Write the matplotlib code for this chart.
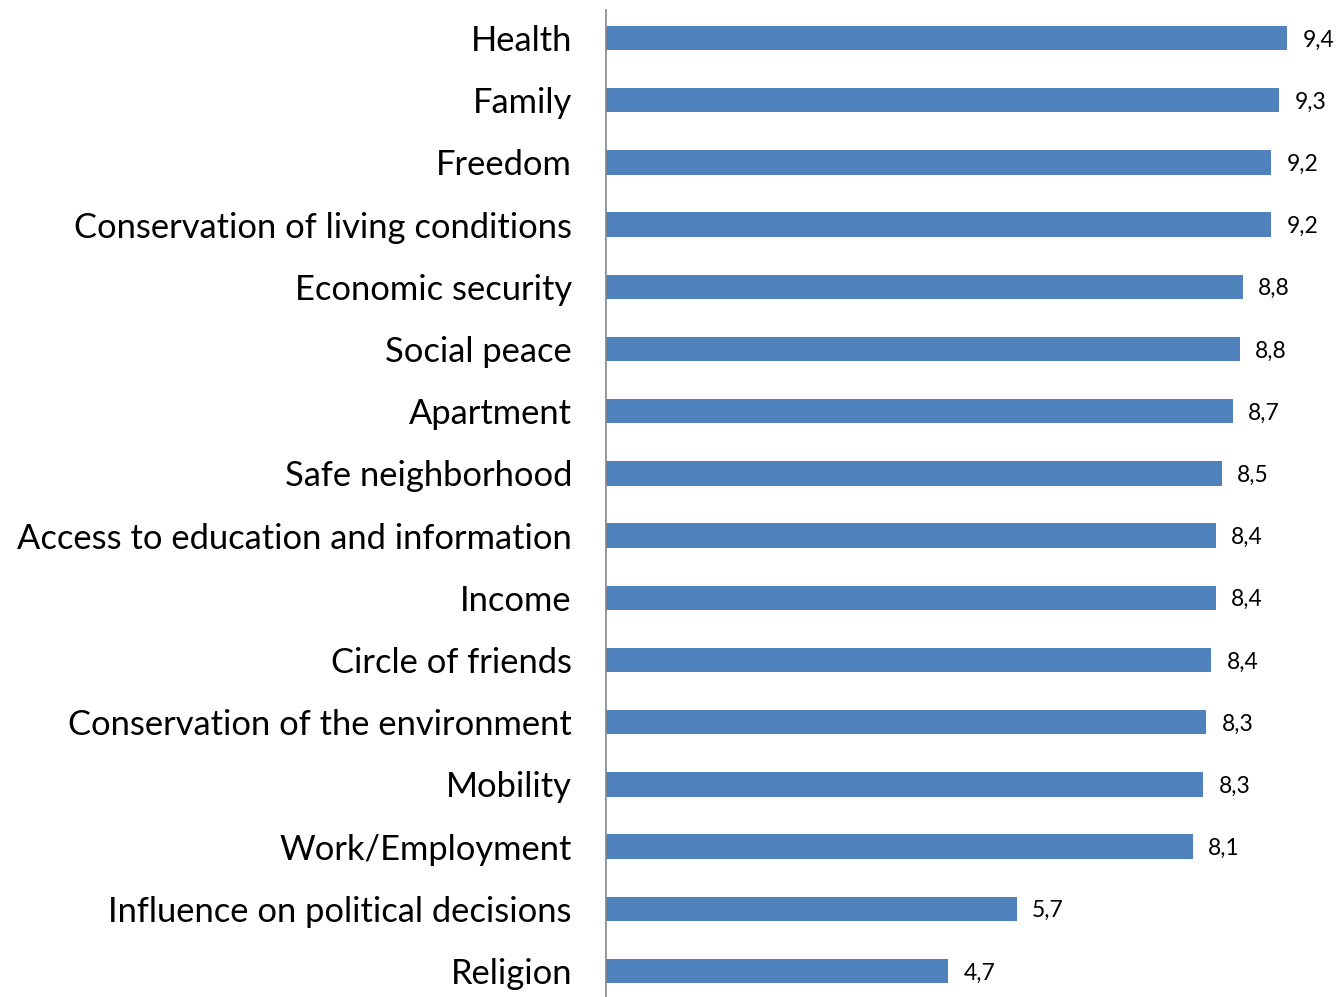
import matplotlib
matplotlib.use("Agg")
import matplotlib.pyplot as plt

categories = ["Health", "Family", "Freedom", "Conservation of living conditions",
              "Economic security", "Social peace", "Apartment", "Safe neighborhood",
              "Access to education and information", "Income", "Circle of friends",
              "Conservation of the environment", "Mobility", "Work/Employment",
              "Influence on political decisions", "Religion"]
# bar lengths, printed labels as shown
values = [9.41, 9.30, 9.19, 9.19, 8.80, 8.75, 8.66, 8.51,
          8.42, 8.42, 8.36, 8.29, 8.25, 8.11, 5.67, 4.73]
labels = ["9,4", "9,3", "9,2", "9,2", "8,8", "8,8", "8,7", "8,5",
          "8,4", "8,4", "8,4", "8,3", "8,3", "8,1", "5,7", "4,7"]

plt.rcParams["font.family"] = ["Lato", "DejaVu Sans"]

W, H = 1340, 997
fig = plt.figure(figsize=(W / 100, H / 100), dpi=100)
ax = fig.add_axes([606 / W, -5.1 / H, (W - 606) / W, 995.2 / H])

y = list(range(len(categories)))
ax.barh(y, values, height=0.39, color="#4F81BD", zorder=2)
for yi, v, l in zip(y, values, labels):
    ax.text(v + 0.21, yi, l, va="center_baseline", ha="left", fontsize=16.5)

ax.set_ylim(len(categories) - 0.5, -0.5)
ax.set_xlim(0, (W - 606) / 72.4)
ax.set_yticks(y)
ax.set_yticklabels(categories, fontsize=24.8)
ax.tick_params(axis="y", length=0, pad=24.5)
ax.set_xticks([])
for s in ["top", "right", "bottom"]:
    ax.spines[s].set_visible(False)
ax.spines["left"].set_color("#868686")
ax.spines["left"].set_linewidth(1.2)
ax.spines["left"].set_bounds(len(categories) - 0.5, -0.45)

fig.savefig("out.png", dpi=100)
